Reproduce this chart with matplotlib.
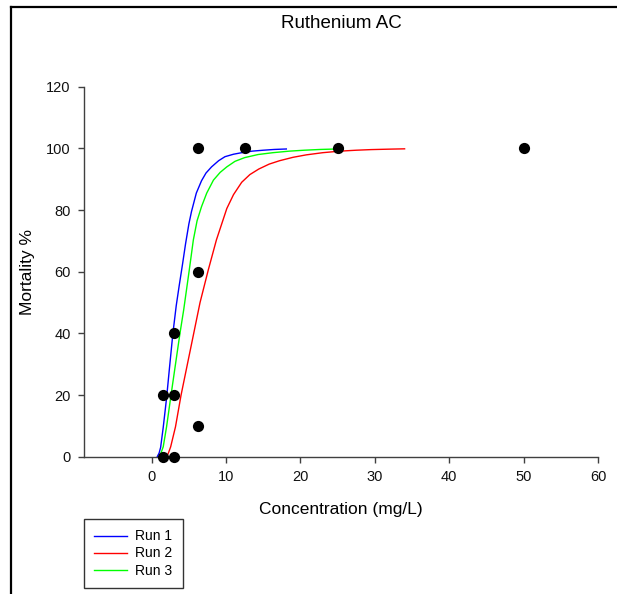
import matplotlib
matplotlib.use("Agg")
import matplotlib.pyplot as plt
from matplotlib.lines import Line2D

plt.rcParams['font.family'] = ['Liberation Sans', 'DejaVu Sans']

# Observed data points
conc = [1.5, 1.5, 3.0, 3.0, 3.0, 6.25, 6.25, 6.25, 12.5, 25.0, 50.0]
mortality = [20, 0, 40, 20, 0, 100, 60, 10, 100, 100, 100]

# Fitted curves
run1_x = [0.75, 1.0, 1.2, 1.55, 2.0, 2.4, 2.85, 3.3, 3.7, 4.15, 4.55, 5.0, 5.35, 6.0, 6.7, 7.3, 8.05, 9.0, 9.85, 11.0, 12.1, 13.5, 15.0, 16.5, 18.1]
run1_y = [0, 1.2, 3, 9.5, 19, 29, 40, 49, 55.5, 62.5, 69, 75.5, 79.5, 85.5, 89.5, 92, 94, 96, 97.3, 98.1, 98.6, 99.1, 99.4, 99.65, 99.8]

run2_x = [2.0, 2.25, 2.55, 3.2, 3.95, 4.8, 5.65, 6.5, 7.6, 8.7, 10.1, 11.0, 12.1, 13.2, 14.4, 15.8, 17.2, 19.0, 20.8, 23.0, 25.3, 27.5, 29.5, 32.0, 34.0]
run2_y = [0, 1.2, 3.2, 9.7, 20, 30, 40, 50, 60.5, 70.3, 80.5, 85, 89, 91.5, 93.3, 94.9, 96, 97.1, 97.9, 98.6, 99.1, 99.4, 99.6, 99.75, 99.85]

run3_x = [1.0, 1.25, 1.55, 2.0, 2.6, 3.2, 3.8, 4.3, 5.05, 5.6, 6.1, 6.7, 7.4, 8.3, 9.2, 10.1, 11.2, 12.5, 14.3, 16.3, 18.5, 20.5, 22.7, 24.9]
run3_y = [0, 1.2, 3.2, 9.7, 20, 30, 40, 47.6, 60.5, 70.3, 76.5, 81.1, 85.5, 89.7, 92.2, 94.0, 95.8, 97.0, 98.0, 98.6, 99.1, 99.4, 99.65, 99.8]

x_ticks = [0, 10, 20, 30, 40, 50, 60]
y_ticks = [0, 20, 40, 60, 80, 100, 120]

W, H = 617, 594
fig = plt.figure(figsize=(W / 100, H / 100), dpi=100)
ax = fig.add_axes([84 / W, 1 - 456.7 / H, (598 - 84) / W, (456.7 - 86.7) / H])

ax.plot(run1_x, run1_y, color='#0000ff', lw=1.0, label='Run 1', zorder=2)
ax.plot(run2_x, run2_y, color='#ff0000', lw=1.0, label='Run 2', zorder=2)
ax.plot(run3_x, run3_y, color='#00ff00', lw=1.0, label='Run 3', zorder=2)
ax.scatter(conc, mortality, s=65, color='black', zorder=3, clip_on=False, linewidths=0)

ax.set_xlim(-9.1, 60)
ax.set_ylim(0, 120)
ax.set_xticks(x_ticks)
ax.set_yticks(y_ticks)
for s in ['top', 'right']:
    ax.spines[s].set_visible(False)
for s in ['left', 'bottom']:
    ax.spines[s].set_color('#404040')
    ax.spines[s].set_linewidth(1.0)
ax.tick_params(direction='out', length=4.5, width=1.0, color='#404040', labelsize=10.5, pad=5,
               labelcolor='#111111')

ax.set_title('Ruthenium AC', fontsize=13.5, pad=42)
ax.set_xlabel('Concentration (mg/L)', fontsize=12.5, labelpad=13)
ax.set_ylabel('Mortality %', fontsize=12.5, labelpad=8)

leg = ax.legend(loc='upper left', bbox_to_anchor=(84 / W, 1 - 519 / H), bbox_transform=fig.transFigure,
                fontsize=10, frameon=True, fancybox=False, edgecolor='black', borderpad=0.75,
                labelspacing=0.22, handlelength=2.35, handletextpad=0.6, borderaxespad=0)
leg.get_frame().set_linewidth(1.0)

# partial frame (left and top)
fig.add_artist(Line2D([11 / W, 11 / W], [0, 1 - 7 / H], color='black', lw=1.6, transform=fig.transFigure))
fig.add_artist(Line2D([11 / W, 1], [1 - 7 / H, 1 - 7 / H], color='black', lw=1.6, transform=fig.transFigure))

fig.savefig('out.png', dpi=100)
